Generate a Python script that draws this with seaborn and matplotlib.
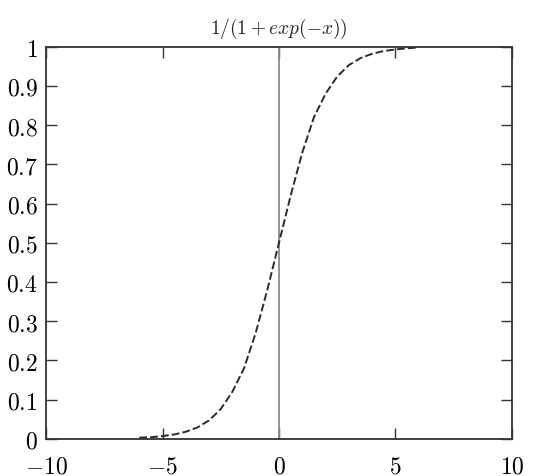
import numpy as np
import pandas as pd
import seaborn as sns
import matplotlib
matplotlib.use("Agg")
import matplotlib.pyplot as plt
from matplotlib.ticker import FuncFormatter

# values
x_vals = [-6, -5.5, -5, -4.5, -4, -3.5, -3, -2.5, -2, -1.5, -1, -0.5, 0,
          0.5, 1, 1.5, 2, 2.5, 3, 3.5, 4, 4.5, 5, 5.5, 6]
y_vals = [0.003, 0.004, 0.007, 0.011, 0.018, 0.029, 0.047, 0.076, 0.12, 0.18,
          0.27, 0.38, 0.50, 0.62, 0.73, 0.82, 0.88, 0.924, 0.953, 0.971,
          0.982, 0.989, 0.993, 0.996, 0.998]
x_ticks = [-10, -5, 0, 5, 10]
y_ticks = [0, 0.1, 0.2, 0.3, 0.4, 0.5, 0.6, 0.7, 0.8, 0.9, 1]
title = r"$1/(1+exp(-x))$"

df = pd.DataFrame({"x": x_vals, "y": y_vals})

sns.set_style("ticks")
plt.rcParams["mathtext.fontset"] = "cm"
plt.rcParams["font.family"] = ["DejaVu Serif"]

fig = plt.figure(figsize=(5.36, 4.77), dpi=100)
ax = fig.add_axes([0.086, 0.078, 0.869, 0.822])

ax.axvline(0, color="#8a8a8a", lw=1.3, zorder=1)
sns.lineplot(data=df, x="x", y="y", ax=ax, color="#2a2a2a", lw=1.4,
             linestyle=(0, (4, 1.6)), zorder=2)

ax.set_xlim(-10, 10)
ax.set_ylim(0, 1)
ax.set_xticks(x_ticks)
ax.set_yticks(y_ticks)
fmt = FuncFormatter(lambda v, pos: "$%g$" % round(v, 2))
ax.xaxis.set_major_formatter(fmt)
ax.yaxis.set_major_formatter(fmt)
ax.tick_params(direction="in", length=8, width=1, colors="#333333",
               labelcolor="black", labelsize=17, top=True, right=True, pad=6)
ax.tick_params(axis="x", pad=11)
for s in ax.spines.values():
    s.set_color("#333333")
    s.set_linewidth(1.3)

ax.set_xlabel("")
ax.set_ylabel("")
ax.set_title(title, fontsize=14, pad=10)

fig.savefig("out.png", dpi=100)
